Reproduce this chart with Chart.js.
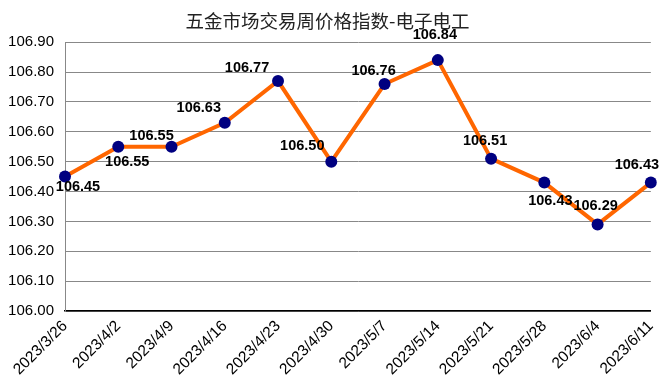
<!DOCTYPE html>
<html>
<head>
<meta charset="utf-8">
<script src="https://cdn.jsdelivr.net/npm/chart.js@4"></script>
<style>
  html, body { margin: 0; padding: 0; background: #fff; }
  #wrap { width: 670px; height: 391px; }
</style>
</head>
<body>
<div id="wrap"><canvas id="chart" width="670" height="391"></canvas></div>
<script>
const TITLE = "五金市场交易周价格指数-电子电工";

const dates = [
  "2023/3/26", "2023/4/2", "2023/4/9", "2023/4/16", "2023/4/23", "2023/4/30",
  "2023/5/7", "2023/5/14", "2023/5/21", "2023/5/28", "2023/6/4", "2023/6/11",
];

const priceIndex = [
  106.45, 106.55, 106.55, 106.63, 106.77, 106.50,
  106.76, 106.84, 106.51, 106.43, 106.29, 106.43,
];

const yMin = 106.0;
const yMax = 106.9;
const yStep = 0.1;

// where each value label sits relative to its point (px)
const labelDx = [13, 9, -20, -26, -31, -29, -11, -3, -6, 6, -2, -14];
const labelDy = [10, 15, -11, -15, -13, -16, -13, -25, -18, 18, -18, -18];

const valueLabels = {
  id: "valueLabels",
  afterDatasetsDraw(chart) {
    const ctx = chart.ctx;
    const meta = chart.getDatasetMeta(0);
    ctx.save();
    ctx.font = "bold 14.5px 'Liberation Sans', Arial, sans-serif";
    ctx.fillStyle = "#000";
    ctx.textAlign = "center";
    ctx.textBaseline = "middle";
    meta.data.forEach((pt, i) => {
      ctx.fillText(priceIndex[i].toFixed(2), pt.x + labelDx[i], pt.y + labelDy[i]);
    });
    ctx.restore();
  },
};

new Chart(document.getElementById("chart"), {
  type: "line",
  data: {
    labels: dates,
    datasets: [{
      data: priceIndex,
      borderColor: "#FF6600",
      borderWidth: 4,
      pointRadius: 6,
      pointHoverRadius: 6,
      pointBackgroundColor: "#000080",
      pointBorderColor: "#000080",
      pointBorderWidth: 0,
      tension: 0,
    }],
  },
  options: {
    responsive: false,
    animation: false,
    layout: { padding: { left: 0, right: 15, top: 0, bottom: 0 } },
    plugins: {
      legend: { display: false },
      tooltip: { enabled: false },
      title: {
        display: true,
        text: TITLE,
        color: "#222",
        font: { family: "'Noto Sans CJK SC', sans-serif", size: 18.5, weight: "normal" },
        padding: { top: 10, bottom: 10 },
      },
    },
    scales: {
      x: {
        offset: false,
        afterFit: (s) => { s.height = 80; },
        grid: { display: false, drawTicks: false },
        border: { color: "#000", width: 1.5 },
        ticks: {
          color: "#000",
          font: { family: "'Liberation Sans', Arial, sans-serif", size: 15.5 },
          minRotation: 45,
          maxRotation: 45,
          autoSkip: false,
          padding: 6,
        },
      },
      y: {
        min: yMin,
        max: yMax,
        afterFit: (s) => { s.width = 65; },
        grid: { color: "#888", lineWidth: 1, drawTicks: false },
        border: { color: "#888", width: 1 },
        ticks: {
          stepSize: yStep,
          color: "#000",
          font: { family: "'Liberation Sans', Arial, sans-serif", size: 15 },
          padding: 11,
          callback: (v) => Number(v).toFixed(2),
        },
      },
    },
  },
  plugins: [valueLabels],
});
</script>
</body>
</html>
